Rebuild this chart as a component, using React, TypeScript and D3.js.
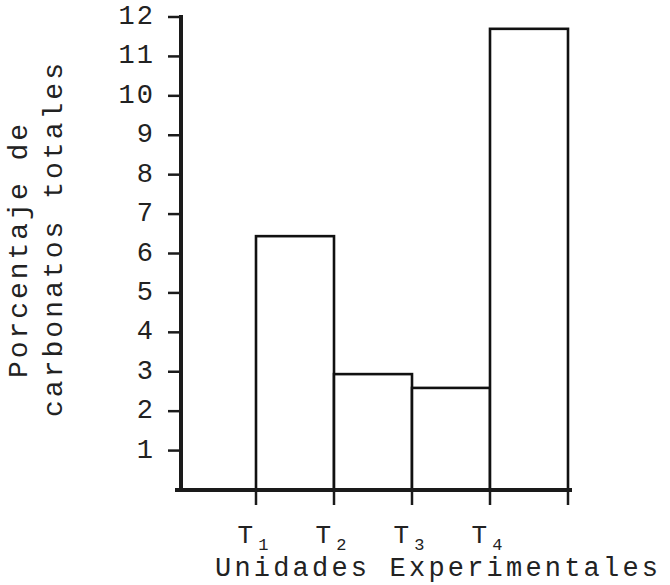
import React from 'react';
import * as d3 from 'd3';

const categories = ['1', '2', '3', '4'];
const values = [6.44, 2.94, 2.59, 11.7];
const yTicks = [1, 2, 3, 4, 5, 6, 7, 8, 9, 10, 11, 12];

const width = 670;
const height = 585;
const font = '"Liberation Mono", "DejaVu Sans Mono", monospace';

const App: React.FC = () => {
  const y = d3.scaleLinear().domain([0, 12]).range([490, 17]);
  const x = d3.scaleBand<string>().domain(categories).range([256, 568]).paddingInner(0);
  const axisX = 181;
  const bw = x.bandwidth();
  // tick positions on the x axis: left edge of each bar plus the right edge of the last
  const xEdges = [...categories.map(c => x(c) as number), (x(categories[categories.length - 1]) as number) + bw];

  return (
    <svg
      width={width}
      height={height}
      style={{ position: 'absolute', left: 0, top: 0, background: '#fff' }}
      fontFamily={font}
    >
      {/* bars */}
      {categories.map((c, i) => (
        <rect
          key={c}
          x={x(c)}
          y={y(values[i])}
          width={bw}
          height={y(0) - y(values[i])}
          fill="#fff"
          stroke="#111"
          strokeWidth={2.6}
        />
      ))}

      {/* y axis */}
      <line x1={axisX} x2={axisX} y1={15} y2={492} stroke="#1a1a1a" strokeWidth={4} />
      {yTicks.map(t => (
        <g key={t}>
          <line x1={168} x2={axisX} y1={y(t)} y2={y(t)} stroke="#1a1a1a" strokeWidth={2.5} />
          <text
            x={155}
            y={y(t)}
            textAnchor="end"
            dominantBaseline="central"
            fontSize={27}
            letterSpacing={2}
            fill="#222"
          >
            {t}
          </text>
        </g>
      ))}

      {/* x axis */}
      <line x1={175} x2={572} y1={y(0)} y2={y(0)} stroke="#1a1a1a" strokeWidth={4} />
      {xEdges.map((ex, i) => (
        <line key={i} x1={ex} x2={ex} y1={y(0)} y2={505} stroke="#1a1a1a" strokeWidth={2.5} />
      ))}
      {categories.map(c => (
        <text key={c} x={(x(c) as number) - 3} y={543} textAnchor="middle" fontSize={26} fill="#222">
          <tspan>T</tspan>
          <tspan fontSize={17} dx={5} dy={7}>{c}</tspan>
        </text>
      ))}

      <text x={215} y={576} fontSize={27} textLength={443} lengthAdjust="spacing" fill="#222">
        Unidades Experimentales
      </text>

      {/* y axis title */}
      <text
        transform="translate(27,378) rotate(-90)"
        fontSize={28}
        textLength={254}
        lengthAdjust="spacing"
        fill="#222"
      >
        Porcentaje de
      </text>
      <text
        transform="translate(62,417) rotate(-90)"
        fontSize={28}
        textLength={354}
        lengthAdjust="spacing"
        fill="#222"
      >
        carbonatos totales
      </text>
    </svg>
  );
};

export default App;
